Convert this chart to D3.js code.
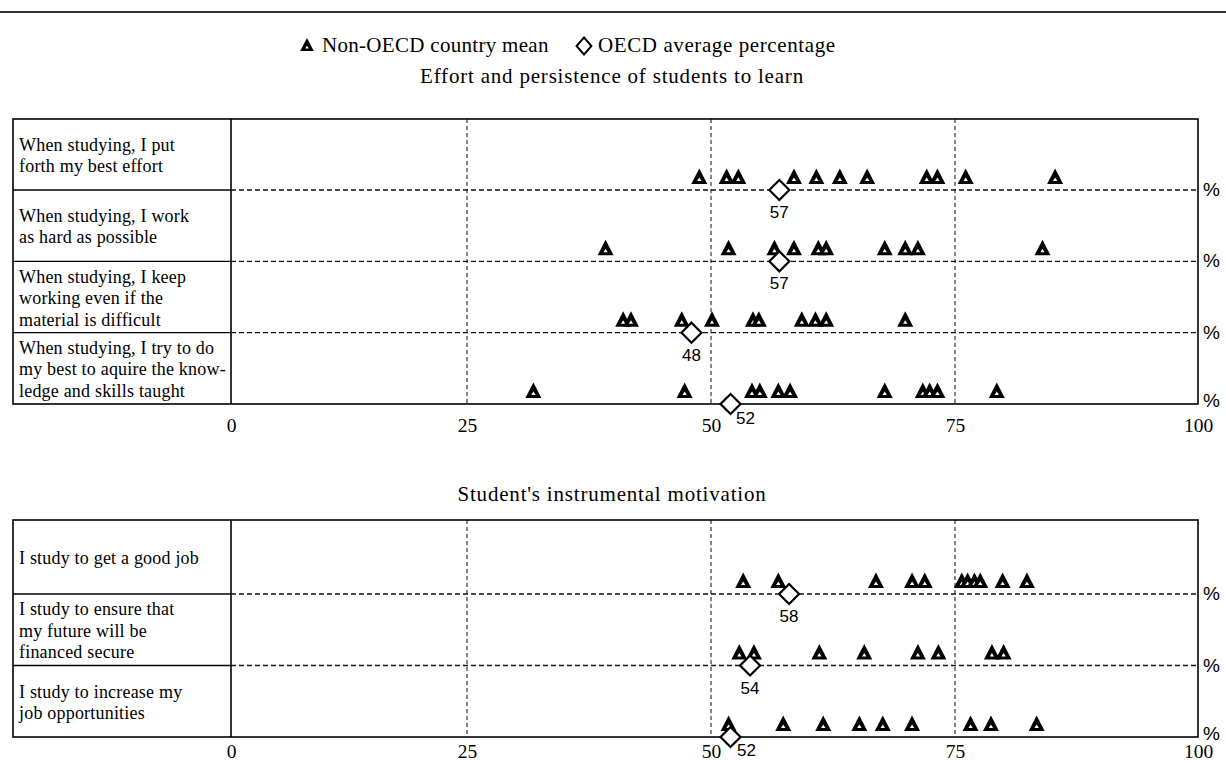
<!DOCTYPE html>
<html><head><meta charset="utf-8">
<script src="https://cdn.jsdelivr.net/npm/d3@7"></script>
<style>body{margin:0;background:#fff} svg{display:block}</style>
</head><body><svg id="c" width="1226" height="765"></svg>
<script>
// ---------------- data ----------------
const tickValues = [0, 25, 50, 75, 100];
const legendLabels = ["Non-OECD country mean", "OECD average percentage"];
const panelTitles = ["Effort and persistence of students to learn", "Student's instrumental motivation"];

const effortItems = [
  ["When studying, I put", "forth my best effort"],
  ["When studying, I work", "as hard as possible"],
  ["When studying, I keep", "working even if the", "material is difficult"],
  ["When studying, I try to do", "my best to aquire the know-", "ledge and skills taught"]
];
const effortNonOECD = [
  [48.8, 51.6, 52.8, 58.5, 60.8, 63.2, 66.0, 72.1, 73.2, 76.1, 85.3],
  [39.2, 51.8, 56.5, 58.5, 61.0, 61.8, 67.8, 69.9, 71.2, 84.0],
  [41.0, 41.8, 47.0, 50.1, 54.3, 54.9, 59.3, 60.7, 61.8, 69.9],
  [31.8, 47.3, 54.2, 55.0, 56.9, 58.1, 67.8, 71.7, 72.4, 73.2, 79.3]
];
const effortOECD = [57, 57, 48, 52];

const motivItems = [
  ["I study to get a good job"],
  ["I study to ensure that", "my future will be", "financed secure"],
  ["I study to increase my", "job opportunities"]
];
const motivNonOECD = [
  [53.3, 56.9, 66.9, 70.6, 71.9, 75.7, 76.3, 77.0, 77.6, 79.9, 82.4],
  [52.9, 54.4, 61.1, 65.7, 71.2, 73.3, 78.8, 80.0],
  [51.8, 57.4, 61.5, 65.2, 67.6, 70.6, 76.6, 78.7, 83.4]
];
const motivOECD = [58, 54, 52];

// ---------------- drawing ----------------
const svg = d3.select("#c");
const SERIF = "'Liberation Serif','DejaVu Serif',serif";
const SANS = "'Liberation Sans','DejaVu Sans',sans-serif";
const boxLeft = 13, plotLeft = 231, plotRight = 1198;

const x = d3.scaleLinear().domain(tickValues).range([231, 467, 711, 955, 1198]);

const triOuter = "M0,-9.5L8,6L-8,6Z";
const triInner = "M0,-0.5L2.2,3L-2.2,3Z";
const diaPath = "M0,-10L10,0L0,10L-10,0Z";

function triangle(sel, s) {
  sel.append("path").attr("d", triOuter).attr("fill", "#000").attr("transform", s ? `scale(${s})` : null);
  sel.append("path").attr("d", triInner).attr("fill", "#fff").attr("transform", s ? `scale(${s})` : null);
}

// top rule
svg.append("line").attr("x1", 0).attr("x2", 1226).attr("y1", 12).attr("y2", 12)
  .attr("stroke", "#333").attr("stroke-width", 2);

// legend
const lg = svg.append("g");
triangle(lg.append("g").attr("transform", "translate(307,46)"), 0.85);
lg.append("text").attr("x", 322).attr("y", 52).text(legendLabels[0])
  .attr("font-family", SERIF).attr("font-size", 21).attr("letter-spacing", 0.3);
lg.append("path").attr("d", "M0,-8.5L7.5,0L0,8.5L-7.5,0Z").attr("transform", "translate(584,46)")
  .attr("fill", "#fff").attr("stroke", "#000").attr("stroke-width", 1.9);
lg.append("text").attr("x", 598).attr("y", 52).text(legendLabels[1])
  .attr("font-family", SERIF).attr("font-size", 21).attr("letter-spacing", 0.6);

function drawPanel(cfg) {
  const g = svg.append("g");
  const n = cfg.items.length;
  const y = d3.scaleLinear().domain([0, n - 1]).range([cfg.firstLine, cfg.bottom]);
  const cellTop = i => i === 0 ? cfg.top : y(i - 1);

  // title
  g.append("text").attr("x", 612).attr("y", cfg.titleY).attr("text-anchor", "middle")
    .attr("font-family", SERIF).attr("font-size", 21).attr("letter-spacing", 0.8).text(cfg.title);

  // vertical dashed grid
  g.selectAll(".vg").data(tickValues.slice(1, -1)).join("line")
    .attr("x1", d => x(d)).attr("x2", d => x(d))
    .attr("y1", cfg.top).attr("y2", cfg.bottom)
    .attr("stroke", "#222").attr("stroke-width", 1.1).attr("stroke-dasharray", "4,3");

  // horizontal row lines (solid in label column, dashed in plot)
  g.selectAll(".hl").data(d3.range(n - 1)).join("line")
    .attr("x1", boxLeft).attr("x2", plotLeft).attr("y1", i => y(i)).attr("y2", i => y(i))
    .attr("stroke", "#000").attr("stroke-width", 1.3);
  g.selectAll(".hd").data(d3.range(n - 1)).join("line")
    .attr("x1", plotLeft).attr("x2", plotRight).attr("y1", i => y(i)).attr("y2", i => y(i))
    .attr("stroke", "#111").attr("stroke-width", 1.3).attr("stroke-dasharray", "5,3");

  // box
  g.append("rect").attr("x", boxLeft).attr("y", cfg.top)
    .attr("width", plotRight - boxLeft).attr("height", cfg.bottom - cfg.top)
    .attr("fill", "none").attr("stroke", "#000").attr("stroke-width", 1.6);
  g.append("line").attr("x1", plotLeft).attr("x2", plotLeft).attr("y1", cfg.top).attr("y2", cfg.bottom)
    .attr("stroke", "#000").attr("stroke-width", 1.6);

  // row labels
  cfg.items.forEach((lines, i) => {
    const c = (cellTop(i) + y(i)) / 2 + 1;
    const lh = 21.5;
    const t = g.append("text").attr("font-family", SERIF).attr("font-size", 18)
      .attr("letter-spacing", 0.2).attr("fill", "#000");
    lines.forEach((s, k) => {
      t.append("tspan").attr("x", 19)
        .attr("y", c + (k - (lines.length - 1) / 2) * lh + 6).text(s);
    });
  });

  // % labels
  g.selectAll(".pct").data(d3.range(n)).join("text")
    .attr("x", 1203).attr("y", i => y(i) + (i === n - 1 ? 3 : 6))
    .attr("font-family", SANS).attr("font-size", 19).text("%");

  // non-OECD triangles
  cfg.tri.forEach((vals, i) => {
    g.selectAll(null).data(vals).join("g")
      .attr("transform", v => `translate(${x(v)},${y(i) - 12})`)
      .each(function () { triangle(d3.select(this)); });
  });

  // OECD diamonds
  g.selectAll(".dia").data(cfg.oecd).join("path").attr("d", diaPath)
    .attr("transform", (v, i) => `translate(${x(v)},${y(i)})`)
    .attr("fill", "#fff").attr("stroke", "#000").attr("stroke-width", 2.2);
  g.selectAll(".dl").data(cfg.oecd).join("text")
    .attr("x", (v, i) => x(v) + (i === n - 1 ? cfg.lastDx : 0))
    .attr("y", (v, i) => y(i) + (i === n - 1 ? cfg.lastDy : 28))
    .attr("text-anchor", "middle").attr("font-family", SANS).attr("font-size", 17)
    .text(v => v);

  // x tick labels
  const ax = g.append("g").attr("transform", `translate(0,${cfg.bottom})`)
    .call(d3.axisBottom(x).tickValues(tickValues).tickSize(0).tickPadding(0).tickFormat(d3.format("d")));
  ax.select(".domain").remove();
  ax.selectAll("text").attr("font-family", SERIF).attr("font-size", 19.5).attr("fill", "#000")
    .attr("dy", 0).attr("y", cfg.tickDy);
}

drawPanel({ title: panelTitles[0], titleY: 83, items: effortItems, tri: effortNonOECD, oecd: effortOECD,
  top: 119, firstLine: 190, bottom: 404, tickDy: 28, lastDx: 15, lastDy: 20 });
drawPanel({ title: panelTitles[1], titleY: 501, items: motivItems, tri: motivNonOECD, oecd: motivOECD,
  top: 520, firstLine: 594, bottom: 737, tickDy: 21, lastDx: 16, lastDy: 19 });
</script>
</body></html>
